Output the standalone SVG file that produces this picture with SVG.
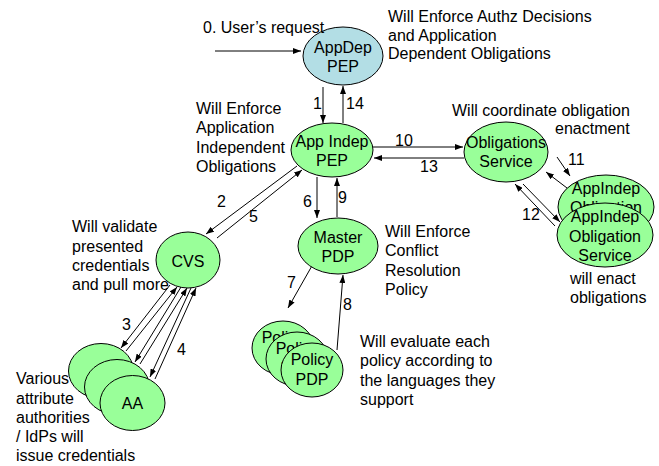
<svg xmlns="http://www.w3.org/2000/svg" width="659" height="466" viewBox="0 0 659 466">
<style>
text{font-family:"Liberation Sans",Arial,sans-serif;font-size:16px;fill:#000}
.c{text-anchor:middle}
.g{fill:#99FF99;stroke:#000;stroke-width:1}
.b{fill:#B3DEE5;stroke:#000;stroke-width:1}
.ln{stroke:#000;stroke-width:1;fill:none;marker-end:url(#ah)}
</style>
<defs>
<marker id="ah" viewBox="0 0 8 6" refX="8" refY="3" markerWidth="8" markerHeight="6" markerUnits="userSpaceOnUse" orient="auto">
<path d="M0,0 L8,3 L0,6 z" fill="#000"/>
</marker>
</defs>
<rect width="659" height="466" fill="#fff"/>

<g id="connectors">
<line class="ln" x1="215" y1="51" x2="301" y2="51"/>
<line class="ln" x1="323" y1="87" x2="323" y2="123"/>
<line class="ln" x1="343" y1="123" x2="343" y2="86"/>
<line class="ln" x1="373" y1="147" x2="463" y2="147"/>
<line class="ln" x1="464" y1="158" x2="374" y2="158"/>
<line class="ln" x1="557" y1="157" x2="570" y2="176"/>
<line class="ln" x1="567" y1="188" x2="546" y2="172"/>
<line class="ln" x1="555" y1="226" x2="515" y2="184"/>
<line class="ln" x1="523" y1="184" x2="560" y2="222"/>
<line class="ln" x1="297" y1="166" x2="206" y2="234"/>
<line class="ln" x1="217" y1="238" x2="302" y2="170"/>
<line class="ln" x1="317" y1="177" x2="317" y2="218"/>
<line class="ln" x1="337" y1="217" x2="337" y2="178"/>
<line class="ln" x1="313" y1="264" x2="288" y2="308"/>
<line class="ln" x1="337" y1="350" x2="343" y2="275"/>
<line class="ln" x1="170" y1="285" x2="121" y2="348"/>
<line class="ln" x1="126" y1="351" x2="177" y2="287"/>
<line class="ln" x1="181" y1="287" x2="135" y2="362"/>
<line class="ln" x1="140" y1="364" x2="187" y2="288"/>
<line class="ln" x1="191" y1="288" x2="150" y2="377"/>
<line class="ln" x1="155" y1="379" x2="196" y2="288"/>
<text x="313" y="109">1</text>
<text x="346" y="109">14</text>
<text x="395" y="146">10</text>
<text x="420" y="172">13</text>
<text x="568" y="165">11</text>
<text x="522" y="220">12</text>
<text x="217" y="207">2</text>
<text x="249" y="222">5</text>
<text x="303" y="207">6</text>
<text x="338" y="203">9</text>
<text x="287" y="288">7</text>
<text x="343" y="310">8</text>
<text x="122" y="330">3</text>
<text x="177" y="355">4</text>
</g>

<g id="appdep-pep">
<ellipse class="b" cx="343" cy="56" rx="40" ry="29"/>
<text class="c" x="343" y="53">AppDep</text>
<text class="c" x="343" y="72">PEP</text>
</g>

<g id="appindep-pep">
<ellipse class="g" cx="332" cy="150" rx="41" ry="27"/>
<text class="c" x="332" y="147">App Indep</text>
<text class="c" x="332" y="166">PEP</text>
</g>

<g id="obligations-service">
<ellipse class="g" cx="506" cy="152" rx="42" ry="30"/>
<text class="c" x="506" y="148">Obligations</text>
<text class="c" x="506" y="167">Service</text>
</g>

<g id="appindep-obligation-back">
<ellipse class="g" cx="606" cy="207" rx="48" ry="32"/>
<text class="c" x="606" y="194">AppIndep</text>
<text class="c" x="606" y="213">Obligation</text>
</g>

<g id="appindep-obligation-service">
<ellipse class="g" cx="605" cy="235" rx="48" ry="32"/>
<text class="c" x="605" y="222">AppIndep</text>
<text class="c" x="605" y="242">Obligation</text>
<text class="c" x="605" y="261">Service</text>
</g>

<g id="cvs">
<ellipse class="g" cx="188" cy="260" rx="32" ry="28"/>
<text class="c" x="188" y="267">CVS</text>
</g>

<g id="master-pdp">
<ellipse class="g" cx="338" cy="246" rx="40" ry="28"/>
<text class="c" x="338" y="243">Master</text>
<text class="c" x="338" y="262">PDP</text>
</g>

<g id="policy-pdp-1">
<ellipse class="g" cx="283" cy="348" rx="31" ry="27"/>
<text class="c" x="283" y="343">Policy</text>
<text class="c" x="283" y="363">PDP</text>
</g>
<g id="policy-pdp-2">
<ellipse class="g" cx="297" cy="359" rx="31" ry="27"/>
<text class="c" x="297" y="354">Policy</text>
<text class="c" x="297" y="374">PDP</text>
</g>
<g id="policy-pdp-3">
<ellipse class="g" cx="312" cy="370" rx="31" ry="27"/>
<text class="c" x="312" y="365">Policy</text>
<text class="c" x="312" y="385">PDP</text>
</g>

<g id="aa-1"><ellipse class="g" cx="101" cy="371" rx="32.5" ry="27.5"/></g>
<g id="aa-2"><ellipse class="g" cx="117" cy="387" rx="32.5" ry="27.5"/></g>
<g id="aa-3">
<ellipse class="g" cx="132.5" cy="403" rx="32.5" ry="27.5"/>
<text class="c" x="132.5" y="409">AA</text>
</g>

<g id="notes">
<text x="203" y="33">0. User’s request</text>
<text x="388" y="22">Will Enforce Authz Decisions</text>
<text x="388" y="40.5">and Application</text>
<text x="388" y="59">Dependent Obligations</text>
<text x="196" y="114">Will Enforce</text>
<text x="196" y="133">Application</text>
<text x="196" y="153">Independent</text>
<text x="196" y="172">Obligations</text>
<text x="452" y="116">Will coordinate obligation</text>
<text x="555" y="134">enactment</text>
<text x="570" y="284">will enact</text>
<text x="570" y="303">obligations</text>
<text x="72" y="232">Will validate</text>
<text x="72" y="252">presented</text>
<text x="72" y="271">credentials</text>
<text x="72" y="290">and pull more</text>
<text x="385" y="237">Will Enforce</text>
<text x="385" y="256">Conflict</text>
<text x="385" y="276">Resolution</text>
<text x="385" y="295">Policy</text>
<text x="360" y="347">Will evaluate each</text>
<text x="360" y="366">policy according to</text>
<text x="360" y="386">the languages they</text>
<text x="360" y="405">support</text>
<text x="16" y="384">Various</text>
<text x="16" y="404">attribute</text>
<text x="16" y="423">authorities</text>
<text x="16" y="442">/ IdPs will</text>
<text x="16" y="461">issue credentials</text>
</g>
</svg>
